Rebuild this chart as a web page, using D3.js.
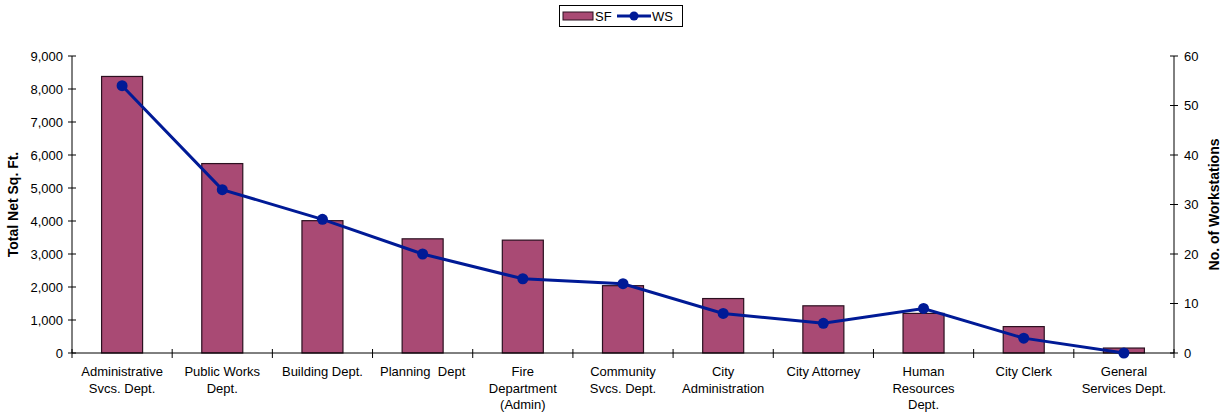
<!DOCTYPE html>
<html>
<head>
<meta charset="utf-8">
<script src="https://cdn.jsdelivr.net/npm/d3@7"></script>
<style>
  html, body { margin: 0; padding: 0; background: #fff; }
  svg { display: block; font-family: "Liberation Sans", Arial, sans-serif; }
</style>
</head>
<body>
<svg id="chart" width="1228" height="412"></svg>
<script>
// Departments along the x axis (each label split into display lines)
const categories = [
  ["Administrative", "Svcs. Dept."],
  ["Public Works", "Dept."],
  ["Building Dept."],
  ["Planning  Dept"],
  ["Fire", "Department", "(Admin)"],
  ["Community", "Svcs. Dept."],
  ["City", "Administration"],
  ["City Attorney"],
  ["Human", "Resources", "Dept."],
  ["City Clerk"],
  ["General", "Services Dept."]
];
// Total net square feet per department
const sfValues = [8380, 5740, 4010, 3460, 3420, 2040, 1650, 1430, 1200, 800, 150];
// Number of workstations per department
const wsValues = [54, 33, 27, 20, 15, 14, 8, 6, 9, 3, 0];
const leftTicks = [0, 1000, 2000, 3000, 4000, 5000, 6000, 7000, 8000, 9000];
const rightTicks = [0, 10, 20, 30, 40, 50, 60];

const svg = d3.select("#chart");
const plot = { left: 72, right: 1174, top: 56, bottom: 353 };

const xOuter = d3.scaleBand()
  .domain(d3.range(categories.length))
  .range([plot.left, plot.right]);
const yL = d3.scaleLinear().domain([0, 9000]).range([plot.bottom, plot.top]);
const yR = d3.scaleLinear().domain([0, 60]).range([plot.bottom, plot.top]);

const fmt = d3.format(",");
const cx = i => xOuter(i) + xOuter.bandwidth() / 2;

// Bars (SF)
svg.append("g").selectAll("rect")
  .data(sfValues)
  .join("rect")
  .attr("x", (d, i) => cx(i) - 20.5)
  .attr("y", d => yL(d))
  .attr("width", 41)
  .attr("height", d => plot.bottom - yL(d))
  .attr("fill", "#A94A74")
  .attr("stroke", "#2b1020")
  .attr("stroke-width", 1.2);

// Left axis
const gL = svg.append("g").attr("class", "left-axis");
gL.append("line")
  .attr("x1", plot.left).attr("x2", plot.left)
  .attr("y1", plot.top).attr("y2", plot.bottom)
  .attr("stroke", "#000").attr("stroke-width", 1);
gL.selectAll("line.tick").data(leftTicks).join("line")
  .attr("class", "tick")
  .attr("x1", plot.left - 4).attr("x2", plot.left + 4)
  .attr("y1", d => yL(d)).attr("y2", d => yL(d))
  .attr("stroke", "#000");
gL.selectAll("text").data(leftTicks).join("text")
  .attr("x", plot.left - 9).attr("y", d => yL(d))
  .attr("dy", "0.35em").attr("text-anchor", "end")
  .attr("font-size", 13).attr("fill", "#000")
  .text(d => fmt(d));

// Right axis
const gR = svg.append("g").attr("class", "right-axis");
gR.append("line")
  .attr("x1", plot.right).attr("x2", plot.right)
  .attr("y1", plot.top).attr("y2", plot.bottom)
  .attr("stroke", "#000").attr("stroke-width", 1);
gR.selectAll("line.tick").data(rightTicks).join("line")
  .attr("class", "tick")
  .attr("x1", plot.right - 4).attr("x2", plot.right + 4)
  .attr("y1", d => yR(d)).attr("y2", d => yR(d))
  .attr("stroke", "#000");
gR.selectAll("text").data(rightTicks).join("text")
  .attr("x", plot.right + 10).attr("y", d => yR(d))
  .attr("dy", "0.35em").attr("text-anchor", "start")
  .attr("font-size", 13).attr("fill", "#000")
  .text(d => d);

// Bottom axis with ticks at category boundaries
const gB = svg.append("g").attr("class", "bottom-axis");
gB.append("line")
  .attr("x1", plot.left).attr("x2", plot.right)
  .attr("y1", plot.bottom).attr("y2", plot.bottom)
  .attr("stroke", "#000");
const boundaries = d3.range(categories.length + 1).map(i =>
  i < categories.length ? xOuter(i) : plot.right);
gB.selectAll("line.tick").data(boundaries).join("line")
  .attr("class", "tick")
  .attr("x1", d => d).attr("x2", d => d)
  .attr("y1", plot.bottom - 4).attr("y2", plot.bottom + 5)
  .attr("stroke", "#000");
const labels = gB.selectAll("text").data(categories).join("text")
  .attr("text-anchor", "middle")
  .attr("font-size", 13).attr("fill", "#000");
labels.each(function(lines, i) {
  d3.select(this).selectAll("tspan").data(lines).join("tspan")
    .attr("x", cx(i))
    .attr("y", (d, j) => 376 + j * 16.5)
    .attr("xml:space", "preserve")
    .style("white-space", "pre")
    .text(d => d);
});

// Line (WS)
const line = d3.line()
  .x((d, i) => cx(i))
  .y(d => yR(d));
svg.append("path")
  .datum(wsValues)
  .attr("d", line)
  .attr("fill", "none")
  .attr("stroke", "#001A96")
  .attr("stroke-width", 3);
svg.append("g").selectAll("circle")
  .data(wsValues)
  .join("circle")
  .attr("cx", (d, i) => cx(i))
  .attr("cy", d => yR(d))
  .attr("r", 5.5)
  .attr("fill", "#001A96");

// Axis titles
svg.append("text")
  .attr("transform", `translate(18,${(plot.top + plot.bottom) / 2}) rotate(-90)`)
  .attr("text-anchor", "middle")
  .attr("font-size", 14).attr("font-weight", "bold")
  .text("Total Net Sq. Ft.");
svg.append("text")
  .attr("transform", `translate(1219,${(plot.top + plot.bottom) / 2}) rotate(-90)`)
  .attr("text-anchor", "middle")
  .attr("font-size", 14).attr("font-weight", "bold")
  .text("No. of Workstations");

// Legend
const lg = svg.append("g").attr("class", "legend");
lg.append("rect")
  .attr("x", 559.5).attr("y", 5.5).attr("width", 123).attr("height", 21)
  .attr("fill", "#fff").attr("stroke", "#000");
lg.append("rect")
  .attr("x", 563).attr("y", 12).attr("width", 30).attr("height", 8)
  .attr("fill", "#A94A74").attr("stroke", "#2b1020");
lg.append("text")
  .attr("x", 595).attr("y", 16).attr("dy", "0.35em")
  .attr("font-size", 13).text("SF");
lg.append("line")
  .attr("x1", 617).attr("x2", 651).attr("y1", 16).attr("y2", 16)
  .attr("stroke", "#001A96").attr("stroke-width", 3);
lg.append("circle")
  .attr("cx", 634).attr("cy", 16).attr("r", 4.5)
  .attr("fill", "#001A96");
lg.append("text")
  .attr("x", 652).attr("y", 16).attr("dy", "0.35em")
  .attr("font-size", 13).text("WS");
</script>
</body>
</html>
